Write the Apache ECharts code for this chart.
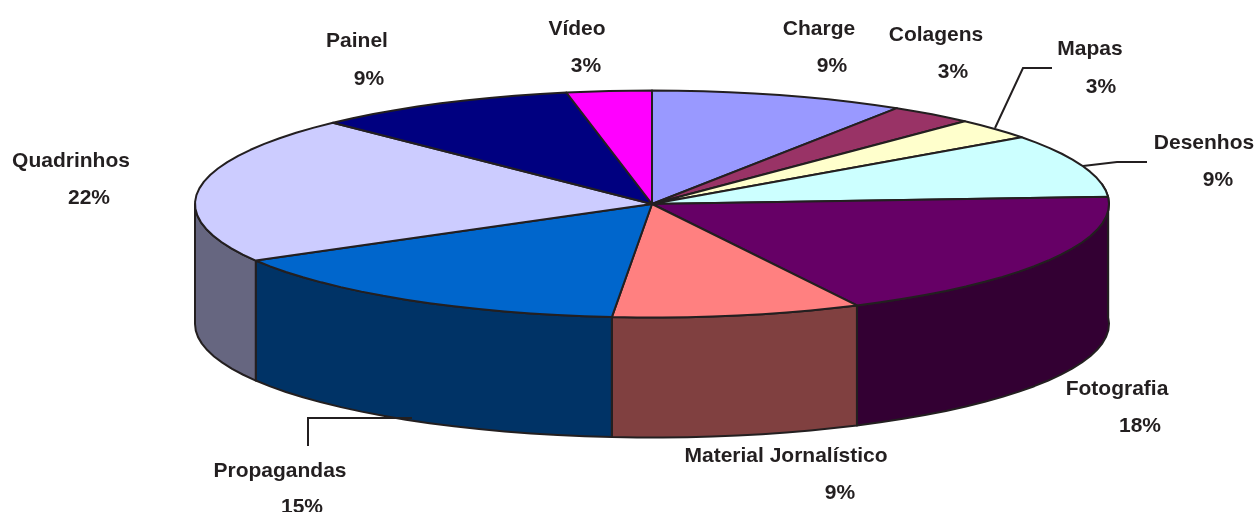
<!DOCTYPE html>
<html>
<head>
<meta charset="utf-8">
<style>html,body{margin:0;padding:0;background:#fff}#c{width:1255px;height:512px}</style>
<script src="https://cdn.jsdelivr.net/npm/echarts@6/dist/echarts.min.js"></script>
</head>
<body>
<div id="c"></div>
<script>
const categories = ['Charge','Colagens','Mapas','Desenhos','Fotografia','Material Jornalístico','Propagandas','Quadrinhos','Painel','Vídeo'];
const percentLabels = ['9%','3%','3%','9%','18%','9%','15%','22%','9%','3%'];
const values = [9.0,3.0,3.0,9.0,18.6,8.8,15.3,21.0,9.3,3.0];
const topColors = ['#9999FF','#993366','#FFFFCC','#CCFFFF','#660066','#FF8080','#0066CC','#CCCCFF','#000080','#FF00FF'];

// layout only
const CX = 652, CY = 204, RX = 457, RY = 113.5, DEPTH = 120, STEP = 3.5, INK = '#231f20';
const namePos = [[819,29],[936,35],[1090,49],[1204,143],[1117,389],[786,456],[280,471],[71,161],[357,41],[577,29]];
const pctPos  = [[832,66],[953,72],[1101,87],[1218,180],[1140,426],[840,493],[302,507],[89,198],[369,79],[586,66]];
const leaders = [
  [[995,128],[1023,68],[1052,68]],
  [[1083,166],[1117,162],[1147,162]],
  [[412,418],[308,418],[308,446]]
];

const total = values.reduce((a,b)=>a+b,0);
const starts = []; let acc = 0;
values.forEach(v => { starts.push(acc/total*360); acc += v; });
const pt = (deg, dy) => {
  const t = deg*Math.PI/180;
  return [CX + RX*Math.sin(t), CY - RY*Math.cos(t) + (dy||0)];
};
const arc = (a,b,dy) => {
  const out = [];
  const n = Math.max(1, Math.ceil((b-a)/STEP));
  for (let i=0;i<=n;i++) out.push(pt(a+(b-a)*i/n, dy));
  return out;
};
const halve = c => {
  const n = parseInt(c.slice(1),16);
  const h = v => Math.round(v/2).toString(16).padStart(2,'0');
  return '#'+h(n>>16&255)+h(n>>8&255)+h(n&255);
};

function renderTop(params, api){
  const i = api.value(0);
  const a = starts[i], b = a + values[i]/total*360;
  return {type:'polygon', shape:{points:[[CX,CY]].concat(arc(a,b,0))},
    style:{fill:topColors[i], stroke:INK, lineWidth:2, lineJoin:'round'}};
}
function renderWall(params, api){
  const i = api.value(0);
  const a = Math.max(starts[i], 80), b = Math.min(starts[i] + values[i]/total*360, 270);
  if (b <= a) return {type:'group', children:[]};
  const pts = arc(a,b,0).concat(arc(a,b,DEPTH).reverse());
  return {type:'polygon', shape:{points:pts},
    style:{fill:halve(topColors[i]), stroke:INK, lineWidth:2, lineJoin:'round'}};
}
const seriesData = values.map((v,i)=>[i,v]);
const textStyle = {font:'bold 21px "Liberation Sans", Arial, sans-serif', fill:INK, textAlign:'center', textVerticalAlign:'middle'};
const graphics = [];
categories.forEach((c,i)=>{
  graphics.push({type:'text', x:namePos[i][0], y:namePos[i][1], z:5, style:Object.assign({text:c},textStyle)});
  graphics.push({type:'text', x:pctPos[i][0], y:pctPos[i][1], z:5, style:Object.assign({text:percentLabels[i]},textStyle)});
});
leaders.forEach(l=>graphics.push({type:'polyline', z:5, shape:{points:l}, style:{stroke:INK, lineWidth:2, fill:null}}));

const chart = echarts.init(document.getElementById('c'), null, {renderer:'canvas', width:1255, height:512});
chart.setOption({
  animation:false,
  backgroundColor:'#ffffff',
  graphic:graphics,
  series:[
    {type:'custom', coordinateSystem:'none', name:'wall', z:1, data:seriesData, renderItem:renderWall, silent:true},
    {type:'custom', coordinateSystem:'none', name:'top', z:2, data:seriesData, renderItem:renderTop, silent:true}
  ]
});
</script>
</body>
</html>
